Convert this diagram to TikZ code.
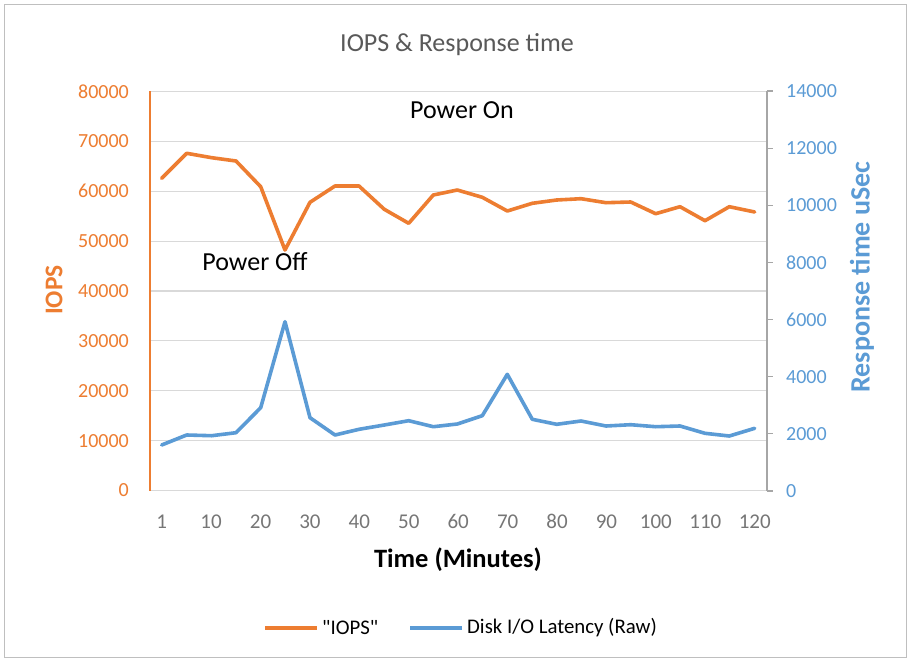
\documentclass[tikz,border=0pt]{standalone}
\usepackage{fontspec}
\setmainfont{Carlito}[Ligatures=TeXOff]
\definecolor{iopsorange}{RGB}{237,125,49}
\definecolor{latblue}{RGB}{91,155,213}
\definecolor{gridgray}{RGB}{217,217,217}
\definecolor{axisgray}{RGB}{166,166,166}
\definecolor{textgray}{RGB}{118,118,118}
\definecolor{titlegray}{RGB}{89,89,89}
\definecolor{framegray}{RGB}{191,191,191}
\begin{document}
\begin{tikzpicture}[x=1pt,y=-1pt,
  tickL/.style={anchor=east,text=iopsorange,font=\fontsize{20}{24}\selectfont,inner sep=0pt},
  tickR/.style={anchor=west,text=latblue,font=\fontsize{20}{24}\selectfont,inner sep=0pt},
  tickX/.style={anchor=center,text=textgray,font=\fontsize{21}{25}\selectfont,inner sep=0pt},
  series/.style={line width=3.6pt,line join=round,line cap=round},
  annot/.style={font=\fontsize{26}{30}\selectfont,text=black,inner sep=0pt},
  legtext/.style={anchor=west,font=\fontsize{20.8}{24}\selectfont,text=black,inner sep=0pt}]
\useasboundingbox (0,0) rectangle (911,662);
\fill[white] (0,0) rectangle (911,662);
\draw[framegray,line width=1pt] (4.5,4.5) rectangle (906.5,657.5);
% title
\node[font=\fontsize{26}{30}\selectfont,text=titlegray] (title) at (457,45) {IOPS \& Response time};
% gridlines
\foreach \k in {0,...,8} {
  \draw[gridgray,line width=1.2pt] (150,{490.5-\k*49.875}) -- (767,{490.5-\k*49.875});
}
% left axis
\draw[iopsorange,line width=1.2pt] (150,91) -- (150,491);
\foreach \k/\lab in {0/0,1/10000,2/20000,3/30000,4/40000,5/50000,6/60000,7/70000,8/80000} {
  \node[tickL] (l\k) at (129,{490.5-\k*49.875}) {\lab};
}
% right axis
\draw[axisgray,line width=1.2pt] (767,91) -- (767,491);
\foreach \k/\lab in {0/0,1/2000,2/4000,3/6000,4/8000,5/10000,6/12000,7/14000} {
  \draw[axisgray,line width=1.2pt] (767,{491-\k*57.14}) -- (773,{491-\k*57.14});
  \node[tickR] (r\k) at (786,{491-\k*57.14}) {\lab};
}
% x tick labels
\foreach \k/\lab in {0/1,1/10,2/20,3/30,4/40,5/50,6/60,7/70,8/80,9/90,10/100,11/110,12/120} {
  \node[tickX] (x\k) at ({161.7+\k*49.42},521.5) {\lab};
}
% axis titles
\node[font=\bfseries\fontsize{26.5}{30}\selectfont,text=black] (xtitle) at (458,560) {Time (Minutes)};
\node[font=\bfseries\fontsize{25.5}{30}\selectfont,text=iopsorange,rotate=90] (ytitle) at (54,290) {IOPS};
\node[font=\bfseries\fontsize{28}{30}\selectfont,text=latblue,rotate=90] (y2title) at (862,277) {Response time uSec};
% series
\draw[series,latblue] (161.7,445) -- (186.7,435) -- (211.7,435.7) -- (236,432.7) -- (260.7,407.7) -- (285,321.7) -- (310,417.7) -- (335,435) -- (359,429.3) -- (384.3,425) -- (408.7,420.7) -- (433.3,426.7) -- (457.3,424) -- (482.3,415.7) -- (507.3,374.3) -- (532.3,419.3) -- (556.7,424.3) -- (581,421) -- (606,426) -- (630.7,424.7) -- (655.7,426.7) -- (680,426) -- (705,433.3) -- (729.3,436) -- (754.7,428.3);
\draw[series,iopsorange] (161.7,178.3) -- (186.7,153.3) -- (211.7,157.7) -- (236,161) -- (260.7,186.7) -- (285,250) -- (310,202.3) -- (335,186) -- (359,186) -- (384.3,209.3) -- (408.7,223.3) -- (433.3,195) -- (457.3,190) -- (482.3,197.3) -- (507.3,211) -- (532.3,203.3) -- (556.7,200) -- (581,198.7) -- (606,202.7) -- (630.7,202) -- (655.7,213.7) -- (680,206.7) -- (705,220.7) -- (729.3,206.7) -- (754.7,212);
% annotations
\node[annot] (pon) at (462,110) {Power On};
\node[annot] (poff) at (255,262) {Power Off};
% legend
\coordinate (lo1) at (265,628);
\coordinate (lo2) at (316.5,628);
\draw[series,iopsorange,line cap=butt] (lo1) -- (lo2);
\node[legtext] (legiops) at (322,628) {"IOPS"};
\coordinate (lb1) at (410,628);
\coordinate (lb2) at (461.5,628);
\draw[series,latblue,line cap=butt] (lb1) -- (lb2);
\node[legtext] (leglat) at (467,628) {Disk I/O Latency (Raw)};
\end{tikzpicture}
\end{document}
